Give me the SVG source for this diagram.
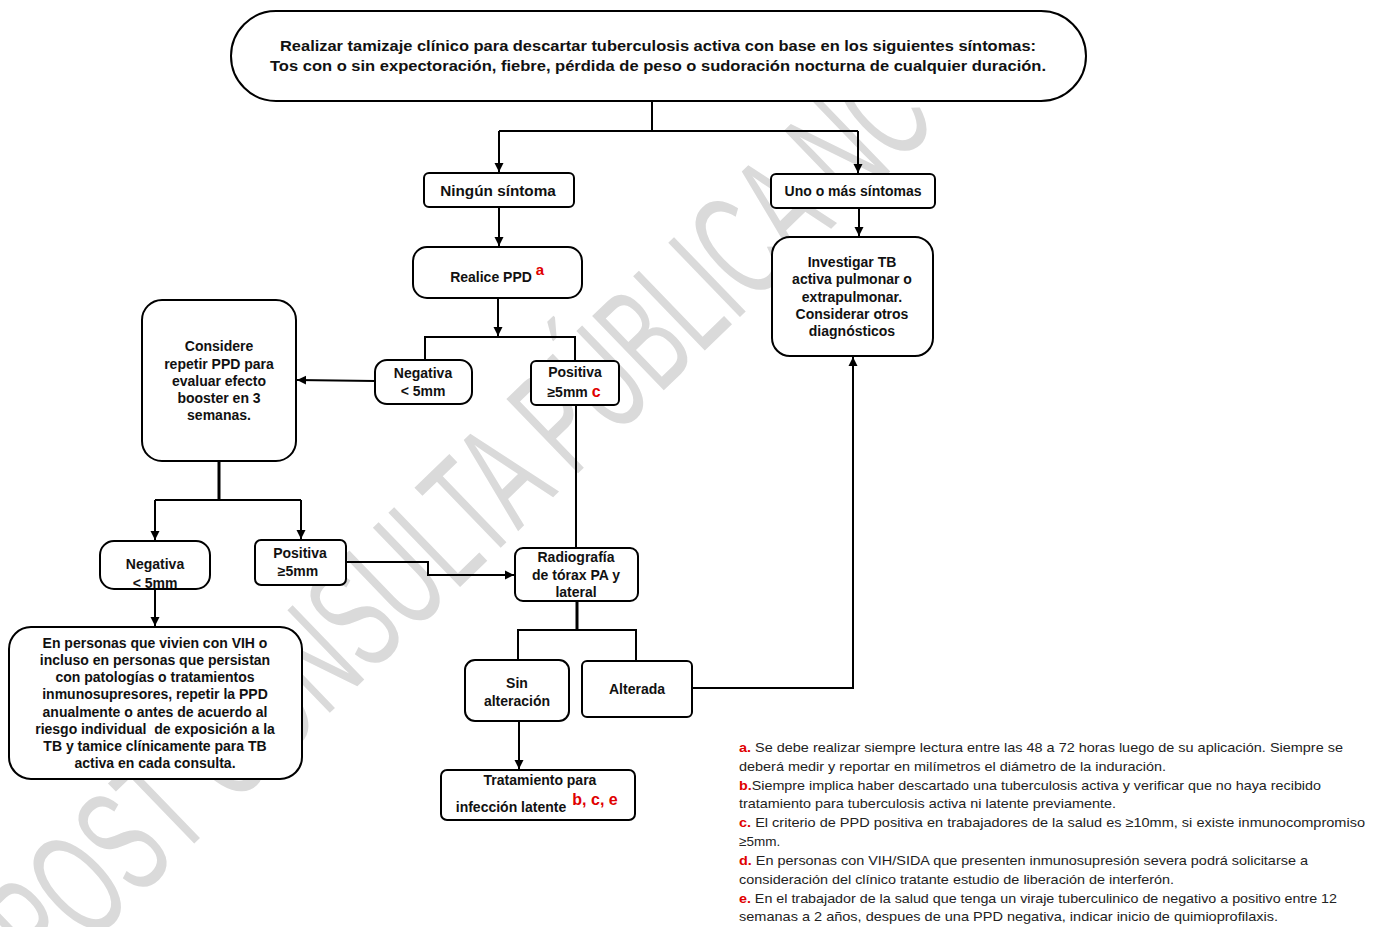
<svg xmlns="http://www.w3.org/2000/svg" width="1375" height="927" viewBox="0 0 1375 927">
<defs>
<marker id="ah" markerUnits="userSpaceOnUse" markerWidth="10" markerHeight="10" refX="9" refY="5" orient="auto">
<path d="M0,0.5 L9,5 L0,9.5 z" fill="#000"/>
</marker>
<style>
.box{fill:#fff;stroke:#000;stroke-width:2}
.t{font-family:"Liberation Sans",Arial,sans-serif;font-weight:bold;font-size:14px;fill:#111;text-anchor:middle}
.r{fill:#e00000}
.ln{fill:none;stroke:#000;stroke-width:2}
.fn{font-family:"Liberation Sans",Arial,sans-serif;font-size:13.5px;fill:#222}
.fr{fill:#e00000;font-weight:bold}
.wm{font-family:"Liberation Sans",Arial,sans-serif;font-size:150px;fill:#dadada}
</style>
</defs>
<rect width="1375" height="927" fill="#fff"/>
<g id="watermark">
<text class="wm" x="0" y="0" textLength="1240" lengthAdjust="spacingAndGlyphs" transform="translate(48,985) rotate(-44)">POST CONSULTA PÚBLICA NC</text>
</g>
<g id="connectors">
<path class="ln" d="M652,102 V131 M499,131 H858"/>
<path class="ln" d="M499,131 V172" marker-end="url(#ah)"/>
<path class="ln" d="M858,131 V173" marker-end="url(#ah)"/>
<path class="ln" d="M499,207 V246" marker-end="url(#ah)"/>
<path class="ln" d="M859,208 V236" marker-end="url(#ah)"/>
<path class="ln" d="M498,298 V336" marker-end="url(#ah)"/>
<path class="ln" d="M425,360 V337 H575 V361"/>
<path class="ln" d="M375,381 L297,380" marker-end="url(#ah)"/>
<path class="ln" d="M219,461 V500" style="stroke-width:3"/>
<path class="ln" d="M155,500 H301"/>
<path class="ln" d="M155,500 V540" marker-end="url(#ah)"/>
<path class="ln" d="M301,500 V539" marker-end="url(#ah)"/>
<path class="ln" d="M155,589 V626" marker-end="url(#ah)"/>
<path class="ln" d="M346,562 H428 V575 H514" marker-end="url(#ah)"/>
<path class="ln" d="M576,405 V548"/>
<path class="ln" d="M577,601 V630" style="stroke-width:3"/>
<path class="ln" d="M518,660 V630 H636 V661"/>
<path class="ln" d="M692,688 H853 V357" marker-end="url(#ah)"/>
<path class="ln" d="M519,721 V769" marker-end="url(#ah)"/>
</g>
<g id="n_top">
<rect class="box" x="231" y="11" width="855" height="90" rx="45"/>
<text class="t" style="font-size:15px" x="658" y="51" textLength="756" lengthAdjust="spacingAndGlyphs">Realizar tamizaje clínico para descartar tuberculosis activa con base en los siguientes síntomas:</text>
<text class="t" style="font-size:15px" x="658" y="71" textLength="776" lengthAdjust="spacingAndGlyphs">Tos con o sin expectoración, fiebre, pérdida de peso o sudoración nocturna de cualquier duración.</text>
</g>
<g id="n_ninguno">
<rect class="box" x="424" y="173" width="150" height="34" rx="5"/>
<text class="t" style="font-size:15.3px" x="498" y="196">Ningún síntoma</text>
</g>
<g id="n_uno">
<rect class="box" x="771" y="174" width="164" height="34" rx="5"/>
<text class="t" x="853" y="196">Uno o más síntomas</text>
</g>
<g id="n_ppd">
<rect class="box" x="413" y="247" width="169" height="51" rx="14"/>
<text class="t" x="491" y="282">Realice PPD</text>
<text class="t r" style="font-size:15px" x="540" y="275">a</text>
</g>
<g id="n_investigar">
<rect class="box" x="772" y="237" width="161" height="119" rx="18"/>
<text class="t" x="852" y="267">Investigar TB</text>
<text class="t" x="852" y="284">activa pulmonar o</text>
<text class="t" x="852" y="302">extrapulmonar.</text>
<text class="t" x="852" y="319">Considerar otros</text>
<text class="t" x="852" y="336">diagnósticos</text>
</g>
<g id="n_neg1">
<rect class="box" x="375" y="360" width="97" height="44" rx="12"/>
<text class="t" x="423" y="378">Negativa</text>
<text class="t" x="423" y="396">&lt; 5mm</text>
</g>
<g id="n_pos1">
<rect class="box" x="531" y="361" width="88" height="44" rx="5"/>
<text class="t" x="575" y="377">Positiva</text>
<text class="t" x="574" y="397">≥5mm <tspan class="r" style="font-size:16px">c</tspan></text>
</g>
<g id="n_considere">
<rect class="box" x="142" y="300" width="154" height="161" rx="20"/>
<text class="t" x="219" y="351">Considere</text>
<text class="t" x="219" y="369">repetir PPD para</text>
<text class="t" x="219" y="386">evaluar efecto</text>
<text class="t" x="219" y="403">booster en 3</text>
<text class="t" x="219" y="420">semanas.</text>
</g>
<g id="n_neg2">
<rect class="box" x="100" y="541" width="110" height="48" rx="14"/>
<text class="t" x="155" y="569">Negativa</text>
<text class="t" x="155" y="588">&lt; 5mm</text>
</g>
<g id="n_pos2">
<rect class="box" x="255" y="540" width="91" height="45" rx="6"/>
<text class="t" x="300" y="558">Positiva</text>
<text class="t" x="298" y="576">≥5mm</text>
</g>
<g id="n_vih">
<rect class="box" x="9" y="627" width="293" height="152" rx="22"/>
<text class="t" x="155" y="648">En personas que vivien con VIH o</text>
<text class="t" x="155" y="665">incluso en personas que persistan</text>
<text class="t" x="155" y="682">con patologías o tratamientos</text>
<text class="t" x="155" y="699">inmunosupresores, repetir la PPD</text>
<text class="t" x="155" y="717">anualmente o antes de acuerdo al</text>
<text class="t" x="155" y="734" xml:space="preserve">riesgo individual  de exposición a la</text>
<text class="t" x="155" y="751">TB y tamice clínicamente para TB</text>
<text class="t" x="155" y="768">activa en cada consulta.</text>
</g>
<g id="n_rx">
<rect class="box" x="515" y="548" width="123" height="53" rx="8"/>
<text class="t" x="576" y="562">Radiografía</text>
<text class="t" x="576" y="580">de tórax PA y</text>
<text class="t" x="576" y="597">lateral</text>
</g>
<g id="n_sin">
<rect class="box" x="465" y="660" width="104" height="61" rx="10"/>
<text class="t" x="517" y="688">Sin</text>
<text class="t" x="517" y="706">alteración</text>
</g>
<g id="n_alterada">
<rect class="box" x="582" y="661" width="110" height="56" rx="5"/>
<text class="t" x="637" y="694">Alterada</text>
</g>
<g id="n_tratamiento">
<rect class="box" x="441" y="770" width="194" height="50" rx="6"/>
<text class="t" x="540" y="785">Tratamiento para</text>
<text class="t" x="511" y="812">infección latente</text>
<text class="t r" style="font-size:16px" x="595" y="805">b, c, e</text>
</g>
<g id="footnotes">
<text class="fn" x="739" y="752" textLength="604" lengthAdjust="spacingAndGlyphs"><tspan class="fr">a.</tspan> Se debe realizar siempre lectura entre las 48 a 72 horas luego de su aplicación. Siempre se</text>
<text class="fn" x="739" y="771" textLength="427" lengthAdjust="spacingAndGlyphs">deberá medir y reportar en milímetros el diámetro de la induración.</text>
<text class="fn" x="739" y="790" textLength="582" lengthAdjust="spacingAndGlyphs"><tspan class="fr">b.</tspan>Siempre implica haber descartado una tuberculosis activa y verificar que no haya recibido</text>
<text class="fn" x="739" y="808" textLength="377" lengthAdjust="spacingAndGlyphs">tratamiento para tuberculosis activa ni latente previamente.</text>
<text class="fn" x="739" y="827" textLength="626" lengthAdjust="spacingAndGlyphs"><tspan class="fr">c.</tspan> El criterio de PPD positiva en trabajadores de la salud es ≥10mm, si existe inmunocompromiso</text>
<text class="fn" x="739" y="846">≥5mm.</text>
<text class="fn" x="739" y="865" textLength="569" lengthAdjust="spacingAndGlyphs"><tspan class="fr">d.</tspan> En personas con VIH/SIDA que presenten inmunosupresión severa podrá solicitarse a</text>
<text class="fn" x="739" y="884" textLength="435" lengthAdjust="spacingAndGlyphs">consideración del clínico tratante estudio de liberación de interferón.</text>
<text class="fn" x="739" y="903" textLength="598" lengthAdjust="spacingAndGlyphs"><tspan class="fr">e.</tspan> En el trabajador de la salud que tenga un viraje tuberculinico de negativo a positivo entre 12</text>
<text class="fn" x="739" y="921" textLength="539" lengthAdjust="spacingAndGlyphs">semanas a 2 años, despues de una PPD negativa, indicar inicio de quimioprofilaxis.</text>
</g>
</svg>
